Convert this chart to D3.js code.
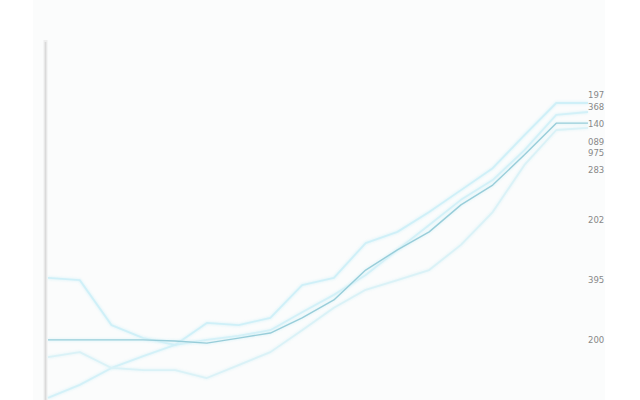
<!DOCTYPE html>
<html><head><meta charset="utf-8">
<script src="https://cdn.jsdelivr.net/npm/d3@7"></script>
<style>html,body{margin:0;padding:0;background:#fff;}svg{display:block;}</style>
</head><body>
<svg id="c" width="640" height="400"></svg>
<script>
const categories = d3.range(18).map(i => "P" + (i + 1));
const seriesA = [16.7,16.7,16.7,16.7,16.4,15.8,17.2,18.6,22.8,27.8,36.1,41.7,46.7,54.2,59.7,68.1,76.9,76.9];
const seriesB = [33.9,33.3,20.8,17.2,15.3,21.4,20.8,22.8,31.9,33.9,43.6,46.7,52.2,58.3,64.4,73.6,82.5,82.5];
const seriesC = [11.9,13.3,8.9,8.3,8.3,6.1,9.7,13.3,19.4,25.6,30.6,33.3,36.1,43.1,52.2,65.3,75,75.6];
const seriesD = [0.6,4.2,8.9,12.2,15.3,16.7,17.8,19.4,24.4,29.2,34.7,41.7,48.6,55.6,61.1,69.4,79.2,80];
const tickLabels = ["197","368","140","089","975","283","202","395","200"];
const tickValues = [84.7,81.4,76.7,71.7,68.6,63.9,50,33.3,16.7];

const svg = d3.select("#c");
const W = 640, H = 400;
const margin = {left: 48, right: 52, top: 40, bottom: 0};

const defs = svg.append("defs");
defs.append("filter").attr("id","glow").attr("x","-5%").attr("y","-20%").attr("width","110%").attr("height","140%")
  .append("feGaussianBlur").attr("stdDeviation", 1.2);

svg.append("rect").attr("x",0).attr("y",0).attr("width",W).attr("height",H).attr("fill","#ffffff");
svg.append("rect").attr("x",33).attr("y",0).attr("width",572).attr("height",H).attr("fill","#fbfcfc");

const x = d3.scalePoint().domain(categories).range([margin.left, W - margin.right]);
const y = d3.scaleLinear().domain([0, 100]).range([H - margin.bottom, margin.top]);

// left axis line
svg.append("line").attr("x1",45.5).attr("x2",45.5).attr("y1",y(100)).attr("y2",y(0))
  .attr("stroke","#eeeeee").attr("stroke-width",4);
svg.append("line").attr("x1",45.5).attr("x2",45.5).attr("y1",y(100)+2).attr("y2",y(0))
  .attr("stroke","#dadada").attr("stroke-width",1.6);

const line = d3.line().x((d,i) => x(categories[i])).y(d => y(d));

const light = [
  {v: seriesD, c: "#d3f1f8"},
  {v: seriesC, c: "#daf2f7"},
  {v: seriesB, c: "#cff0f8"}
];
light.forEach(s => {
  svg.append("path").datum(s.v).attr("d", line).attr("fill","none")
    .attr("stroke", s.c).attr("stroke-width", 3.5).attr("opacity",0.5).attr("filter","url(#glow)");
  svg.append("path").datum(s.v).attr("d", line).attr("fill","none")
    .attr("stroke", s.c).attr("stroke-width", 1.8).attr("stroke-linejoin","round");
});

svg.append("path").datum(seriesA).attr("d", line).attr("fill","none")
  .attr("stroke", "#dcf3f8").attr("stroke-width", 3.5).attr("opacity",0.6).attr("filter","url(#glow)");
svg.append("path").datum(seriesA).attr("d", line).attr("fill","none")
  .attr("stroke", "#98cdd9").attr("stroke-width", 1.4).attr("stroke-linejoin","round");

svg.append("g").selectAll("text").data(tickLabels).join("text")
  .attr("x", 588).attr("y", (d,i) => y(tickValues[i]))
  .attr("dy", "0.35em")
  .attr("font-family", "DejaVu Sans, sans-serif").attr("font-size", 8.5)
  .attr("fill", "#888").text(d => d);
</script>
</body></html>
